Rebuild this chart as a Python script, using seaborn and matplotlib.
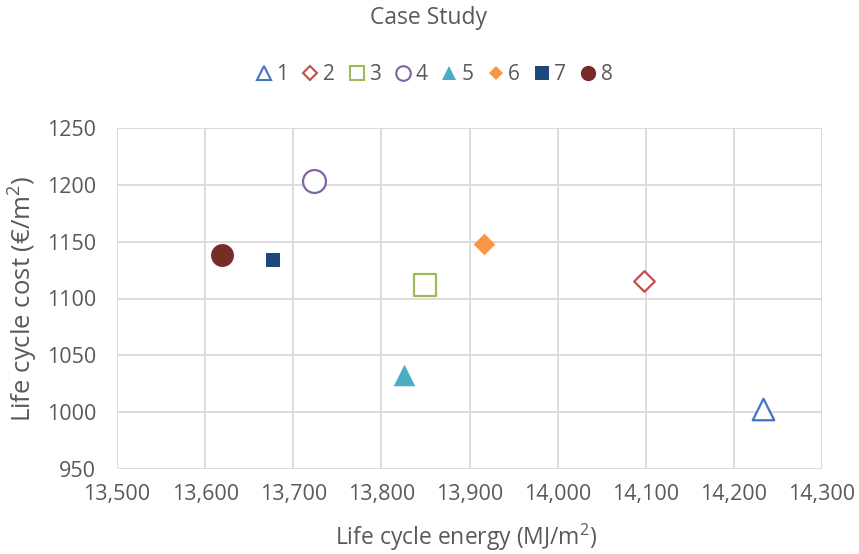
import pandas as pd
import matplotlib.pyplot as plt
import seaborn as sns
from matplotlib.lines import Line2D
from matplotlib.ticker import FuncFormatter

# Dane
cases = ['1', '2', '3', '4', '5', '6', '7', '8']
energy = [14233, 14098, 13849, 13723, 13826, 13917, 13677, 13619]
cost = [1003, 1115, 1112, 1203, 1033, 1148, 1134, 1138]

colors = ['#4472C4', '#C0504D', '#9BBB59', '#8064A2', '#4BACC6', '#F79646', '#1F497D', '#772C2A']
markers = ['^', 'D', 's', 'o', '^', 'D', 's', 'o']
filled = [False, False, False, False, True, True, True, True]
sizes = [15.5, 10.5, 15.5, 16.5, 15.5, 11.0, 9.5, 16.5]   # w punktach
leg_sizes = [10.5, 7.5, 10, 10.5, 10.5, 7.5, 9.5, 11]

df = pd.DataFrame({'case': cases, 'energy': energy, 'cost': cost})

sns.set_theme(style="white")
plt.rcParams['font.family'] = ['Open Sans', 'DejaVu Sans']
plt.rcParams['mathtext.fontset'] = 'custom'
plt.rcParams['mathtext.rm'] = 'Open Sans'
plt.rcParams['mathtext.it'] = 'Open Sans'
grey = '#595959'

fig = plt.figure(figsize=(8.59, 5.54), dpi=100)
ax = fig.add_axes([117 / 859, 1 - 469 / 554, (822 - 117) / 859, (469 - 128) / 554])

for i, row in df.iterrows():
    fc = colors[i] if filled[i] else 'white'
    sns.scatterplot(data=df.iloc[[i]], x='energy', y='cost', ax=ax,
                    marker=markers[i], s=sizes[i] ** 2, color=fc,
                    edgecolor=colors[i], linewidth=0 if filled[i] else 1.6,
                    zorder=3, legend=False)

ax.set_xlim(13500, 14300)
ax.set_ylim(950, 1250)
ax.set_xticks(range(13500, 14301, 100))
ax.set_yticks(range(950, 1251, 50))
ax.xaxis.set_major_formatter(FuncFormatter(lambda v, p: f'{int(v):,}'))
ax.grid(True, color='#D9D9D9', linewidth=1.3)
for s in ax.spines.values():
    s.set_visible(False)
ax.tick_params(axis='both', length=0, labelsize=15.5, colors=grey)
ax.tick_params(axis='y', pad=15)
ax.tick_params(axis='x', pad=11)

ax.set_xlabel('Life cycle energy (MJ/m$^\\mathrm{2}$)', fontsize=16.5, color=grey)
ax.set_ylabel('Life cycle cost (€/m$^\\mathrm{2}$)', fontsize=18.5, color=grey)
ax.xaxis.set_label_coords(0.495, -0.2)
ax.yaxis.set_label_coords(-0.133, 0.5)
ax.xaxis.label.set_va('center')
ax.yaxis.label.set_va('center')

fig.text(429 / 859, 1 - 18 / 554, 'Case Study', ha='center', va='center', fontsize=16.5, color=grey)

handles = []
for i in range(len(cases)):
    fc = colors[i] if filled[i] else 'white'
    handles.append(Line2D([], [], linestyle='none', marker=markers[i], markersize=leg_sizes[i],
                          markerfacecolor=fc, markeredgecolor=colors[i],
                          markeredgewidth=0 if filled[i] else 1.5))
fig.legend(handles, cases, loc='center', bbox_to_anchor=(433 / 859, 1 - 75 / 554),
           ncol=8, frameon=False, fontsize=15, handletextpad=0.1, columnspacing=0.55,
           handlelength=1.0, labelcolor=grey)

fig.savefig('out.png', dpi=100)
